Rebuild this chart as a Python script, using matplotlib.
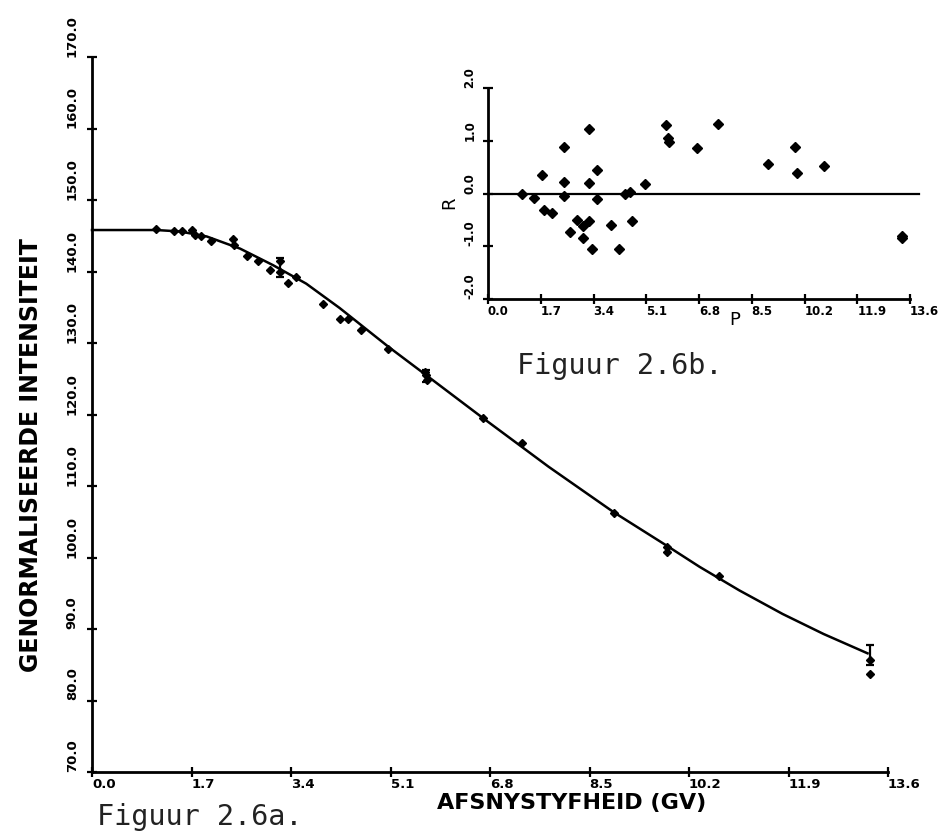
import numpy as np
import matplotlib
matplotlib.use("Agg")
from matplotlib import pyplot as plt

# fitted curve
curve_x = [0.0, 1.1, 1.5, 1.96, 2.53, 3.09, 3.66, 4.23, 5.06, 5.71, 6.68,
           7.8, 8.92, 9.83, 10.38, 11.06, 11.8, 12.5, 13.25]
curve_y = [145.8, 145.8, 145.6, 144.9, 143.2, 140.9, 138.3, 134.9, 129.5,
           125.5, 119.5, 112.7, 106.3, 101.6, 98.7, 95.4, 92.1, 89.3, 86.6]

# measured intensities
meas_x = [1.09, 1.40, 1.53, 1.70, 1.76, 1.87, 2.04, 2.41, 2.42, 2.64, 2.84,
          3.04, 3.22, 3.22, 3.35, 3.49, 3.94, 4.23, 4.37, 4.60, 5.06, 5.69,
          5.71, 5.73, 6.68, 7.35, 8.92, 9.83, 9.83, 10.72, 13.29, 13.29]
meas_y = [145.9, 145.6, 145.6, 145.8, 145.1, 144.9, 144.3, 144.6, 143.7,
          142.1, 141.5, 140.2, 141.5, 140.0, 138.4, 139.3, 135.4, 133.4,
          133.4, 131.8, 129.2, 125.9, 125.5, 124.8, 119.5, 116.0, 106.2,
          101.5, 100.8, 97.4, 85.7, 83.7]

# points that carry an error bar
err_x = [3.22, 5.71, 13.29]
err_y = [140.6, 125.4, 86.4]
err_e = [1.3, 0.8, 1.4]

# residuals (inset)
res_x = [1.09, 1.47, 1.73, 1.81, 2.06, 2.46, 2.46, 2.46, 2.65, 2.87, 3.06,
         3.07, 3.24, 3.27, 3.24, 3.35, 3.51, 3.52, 3.96, 4.21, 4.40, 4.59,
         4.64, 5.07, 5.75, 5.80, 5.82, 6.72, 7.41, 9.01, 9.90, 9.95, 10.82,
         13.35, 13.35]
res_y = [0.0, -0.08, 0.36, -0.32, -0.37, 0.88, 0.21, -0.05, -0.73, -0.51,
         -0.85, -0.61, -0.53, 1.23, 0.19, -1.05, 0.44, -0.11, -0.60, -1.06,
         0.0, 0.02, -0.52, 0.18, 1.30, 1.05, 0.98, 0.87, 1.32, 0.55, 0.88,
         0.39, 0.52, -0.80, -0.85]

x_ticks = [0.0, 1.7, 3.4, 5.1, 6.8, 8.5, 10.2, 11.9, 13.6]
y_ticks = [70, 80, 90, 100, 110, 120, 130, 140, 150, 160, 170]
r_ticks = [-2.0, -1.0, 0.0, 1.0, 2.0]

W, H = 940, 833
fig = plt.figure(figsize=(W / 100, H / 100), dpi=100)


def px_box(left, top, right, bottom):
    return [left / W, 1 - bottom / H, (right - left) / W, (bottom - top) / H]


def style_axes(ax, xt, yt, fs, ypad):
    for side in ("top", "right"):
        ax.spines[side].set_visible(False)
    for side in ("left", "bottom"):
        ax.spines[side].set_linewidth(2.0)
    ax.set_xticks(xt)
    ax.set_yticks(yt)
    ax.set_xticklabels(["%.1f" % v for v in xt])
    ax.set_yticklabels(["%.1f" % v for v in yt])
    ax.tick_params(direction="inout", length=7, width=1.6)
    ax.tick_params(axis="x", pad=1)
    ax.tick_params(axis="y", pad=ypad, labelrotation=90)
    for lbl in ax.get_xticklabels():
        lbl.set_ha("left")
        lbl.set_fontweight("bold")
        lbl.set_fontsize(fs)
    for lbl in ax.get_yticklabels():
        lbl.set_va("bottom")
        lbl.set_fontweight("bold")
        lbl.set_fontsize(fs)


# main panel
ax = fig.add_axes(px_box(92, 57, 888, 772))
ax.set_xlim(0, 13.6)
ax.set_ylim(70, 170)
style_axes(ax, x_ticks, y_ticks, 9.5, 6)

ax.plot(curve_x, curve_y, color="black", lw=1.8, clip_on=False)
ax.plot(meas_x, meas_y, "D", color="black", ms=4, clip_on=False)
ax.errorbar(err_x, err_y, yerr=err_e, fmt="none", ecolor="black",
            elinewidth=1.6, capsize=3, capthick=1.6)

fig.text(572 / W, 1 - 803 / H, "AFSNYSTYFHEID (GV)", ha="center",
         va="center", fontsize=16, fontweight="bold")
fig.text(31 / W, 1 - 455 / H, "GENORMALISEERDE INTENSITEIT", ha="center",
         va="center", rotation=90, fontsize=17, fontweight="bold")
fig.text(97 / W, 1 - 825 / H, "Figuur 2.6a.", ha="left", va="baseline",
         fontsize=20.5, family="DejaVu Sans Mono", color="#222222")

# inset: residuals
axr = fig.add_axes(px_box(488, 88, 910, 299))
axr.set_xlim(0, 13.6)
axr.set_ylim(-2, 2)
style_axes(axr, x_ticks, r_ticks, 8.5, 5)

axr.plot([0, 13.9], [0, 0], color="black", lw=1.6, clip_on=False)
axr.plot(res_x, res_y, "D", color="black", ms=5, clip_on=False)

axr.text(-0.092, 0.455, "R", transform=axr.transAxes, rotation=90,
         ha="center", va="center", fontsize=13)
axr.text((735 - 488) / 422, -(320 - 299) / 211, "P",
         transform=axr.transAxes, ha="center", va="center", fontsize=13)
fig.text(517 / W, 1 - 374 / H, "Figuur 2.6b.", ha="left", va="baseline",
         fontsize=20.5, family="DejaVu Sans Mono", color="#222222")

fig.savefig("out.png", dpi=100)
plt.close(fig)
